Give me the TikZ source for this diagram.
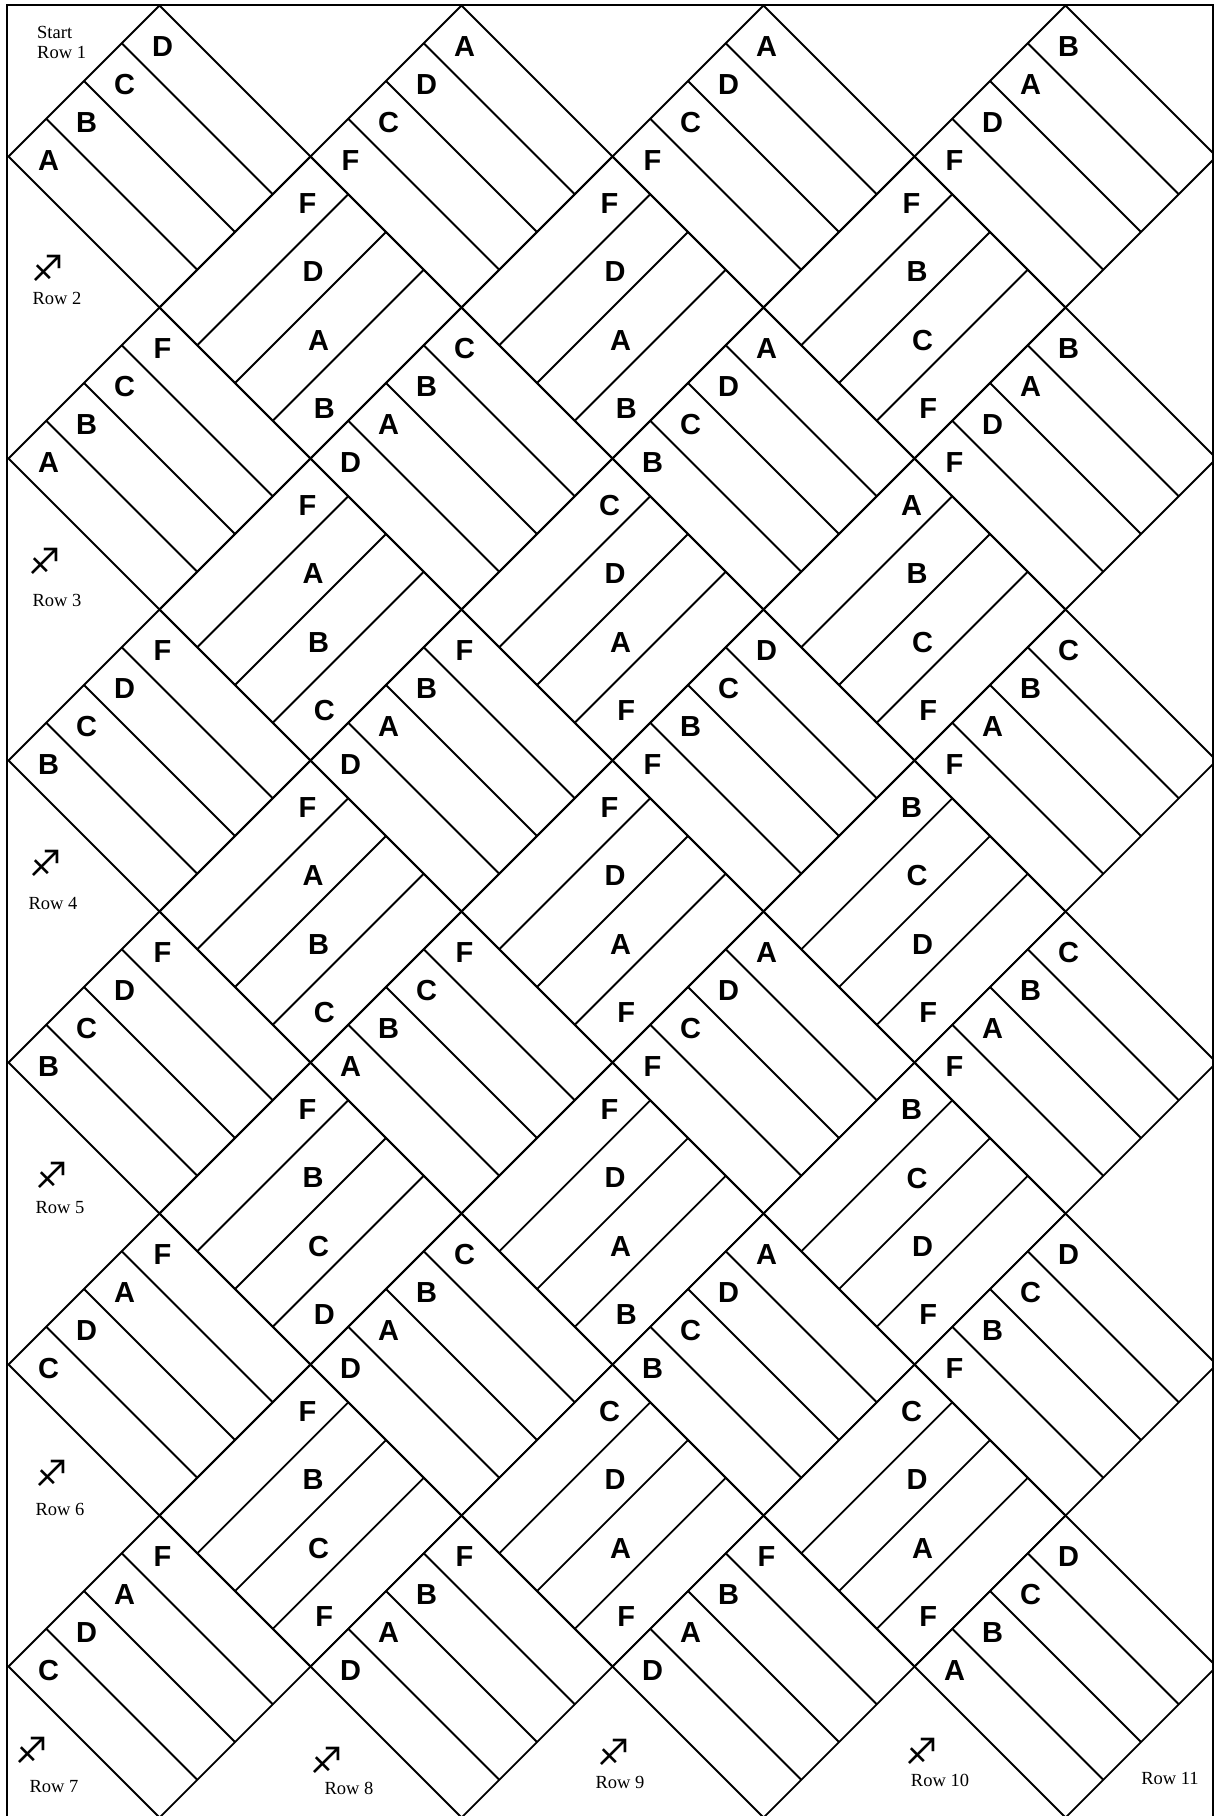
\documentclass[tikz,border=0pt]{standalone}
\usepackage{fontspec}
\setmainfont{Liberation Serif}
\newfontfamily\lettersans{Liberation Sans}
\newfontfamily\signfont{DejaVu Sans}

\begin{document}
\begin{tikzpicture}[x=1pt, y=-1pt,
    cell/.style={draw=black, line width=1.8pt},
    frame/.style={draw=black, line width=2.6pt},
    letter/.style={font=\lettersans\bfseries\fontsize{29}{29}\selectfont, inner sep=0pt},
    rowtag/.style={font=\fontsize{18.5}{18.5}\selectfont, inner sep=0pt},
    rowsign/.style={font=\signfont\fontsize{36}{36}\selectfont, inner sep=0pt}]

  \useasboundingbox (0,0) rectangle (1216,1816);

  \begin{scope}
    \clip (7,5) rectangle (1213,1816);
    % blocks whose strips run down to the right
    \foreach \k/\m/\la/\lb/\lc/\ld in {0/0/A/B/C/D, 2/0/F/C/D/A, 4/0/F/C/D/A, 6/0/F/D/A/B,
        0/2/A/B/C/F, 2/2/D/A/B/C, 4/2/B/C/D/A, 6/2/F/D/A/B,
        0/4/B/C/D/F, 2/4/D/A/B/F, 4/4/F/B/C/D, 6/4/F/A/B/C,
        0/6/B/C/D/F, 2/6/A/B/C/F, 4/6/F/C/D/A, 6/6/F/A/B/C,
        0/8/C/D/A/F, 2/8/D/A/B/C, 4/8/B/C/D/A, 6/8/F/B/C/D,
        0/10/C/D/A/F, 2/10/D/A/B/F, 4/10/D/A/B/F, 6/10/A/B/C/D} {
      \pgfmathsetmacro{\cx}{159.5+151*\k}
      \pgfmathsetmacro{\cy}{156.5+151*\m}
      \draw[cell] (\cx-151,\cy) -- (\cx,\cy-151) -- (\cx+151,\cy) -- (\cx,\cy+151) -- cycle;
      \foreach \t in {0.25,0.5,0.75}
        \draw[cell] (\cx-151+151*\t,\cy-151*\t) -- (\cx+151*\t,\cy+151-151*\t);
      \foreach \l [count=\n from 0] in {\la,\lb,\lc,\ld}
        \node[letter] (se\k-\m-\n) at (\cx-111+38*\n, \cy+4-38*\n) {\l};
    }
    % blocks whose strips run up to the right
    \foreach \k/\m/\la/\lb/\lc/\ld in {1/1/F/D/A/B, 3/1/F/D/A/B, 5/1/F/B/C/F,
        1/3/F/A/B/C, 3/3/C/D/A/F, 5/3/A/B/C/F,
        1/5/F/A/B/C, 3/5/F/D/A/F, 5/5/B/C/D/F,
        1/7/F/B/C/D, 3/7/F/D/A/B, 5/7/B/C/D/F,
        1/9/F/B/C/F, 3/9/C/D/A/F, 5/9/C/D/A/F} {
      \pgfmathsetmacro{\cx}{159.5+151*\k}
      \pgfmathsetmacro{\cy}{156.5+151*\m}
      \draw[cell] (\cx-151,\cy) -- (\cx,\cy-151) -- (\cx+151,\cy) -- (\cx,\cy+151) -- cycle;
      \foreach \t in {0.25,0.5,0.75}
        \draw[cell] (\cx-151+151*\t,\cy+151*\t) -- (\cx+151*\t,\cy-151+151*\t);
      \foreach \l [count=\n from 0] in {\la,\lb,\lc,\ld}
        \node[letter] (ne\k-\m-\n) at (\cx-3+5.6*\n, \cy-104+68.5*\n) {\l};
    }
  \end{scope}

  \draw[frame] (7,1816) -- (7,5) -- (1213,5) -- (1213,1816);

  \node[rowtag, anchor=west] (start) at (37,32) {Start};
  \node[rowtag, anchor=west] (row1) at (37,52) {Row 1};
  \foreach \r/\x/\y in {2/57/298, 3/57/600, 4/53/903, 5/60/1208, 6/60/1509,
      7/54/1787, 8/349/1788, 9/620/1782, 10/940/1780, 11/1170/1778}
    \node[rowtag] (row\r) at (\x,\y) {Row \r};
  \foreach \r/\x/\y in {2/48/268, 3/45/561, 4/46/863, 5/52/1175, 6/52/1473,
      7/32/1750, 8/327/1760, 9/614/1752, 10/922/1751}
    \node[rowsign] (sign\r) at (\x,\y) {♐};
\end{tikzpicture}
\end{document}
